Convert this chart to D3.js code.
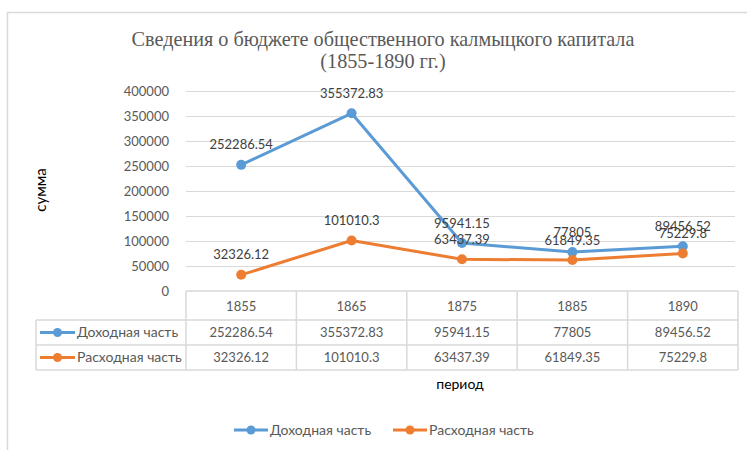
<!DOCTYPE html>
<html><head><meta charset="utf-8">
<script src="https://cdn.jsdelivr.net/npm/d3@7"></script>
<style>body{margin:0;background:#fff}svg{display:block}</style>
</head><body>
<script>
const categories = ["1855","1865","1875","1885","1890"];
const incomeValues = [252286.54, 355372.83, 95941.15, 77805, 89456.52];
const expenseValues = [32326.12, 101010.3, 63437.39, 61849.35, 75229.8];
const yTicks = [0,50000,100000,150000,200000,250000,300000,350000,400000];
const seriesNames = ["Доходная часть","Расходная часть"];
const colors = ["#5B9BD5","#ED7D31"];
const titleLines = ["Сведения о бюджете общественного калмыцкого капитала","(1855-1890 гг.)"];

const W=747,H=450;
const svg=d3.select("body").append("svg").attr("width",W).attr("height",H);
const font="Lato, 'Open Sans', sans-serif";
const gray="#595959", grid="#d9d9d9";

svg.append("rect").attr("x",7.5).attr("y",12.5).attr("width",900).attr("height",600)
  .attr("fill","#fff").attr("stroke",grid).attr("stroke-width",1.5);

// title
svg.append("g").selectAll("text").data(titleLines).join("text")
  .attr("x",383).attr("y",(d,i)=>46+i*22).attr("text-anchor","middle")
  .attr("font-family","'Liberation Serif','Times New Roman',serif").attr("font-size",20.2)
  .attr("fill",gray).text(d=>d);

const x=d3.scaleBand().domain(categories).range([186,738]);
const y=d3.scaleLinear().domain([0,400000]).range([291,91]);

// gridlines
svg.append("g").selectAll("line").data(yTicks.filter(d=>d>0)).join("line")
  .attr("x1",186).attr("x2",735).attr("y1",d=>Math.round(y(d))+0.5).attr("y2",d=>Math.round(y(d))+0.5)
  .attr("stroke",grid).attr("stroke-width",1);

// y axis labels
const yAxis=d3.axisLeft(y).tickValues(yTicks).tickSize(0).tickPadding(0).tickFormat(d3.format("d"));
const ga=svg.append("g").attr("transform","translate(169,0)").call(yAxis);
ga.select(".domain").remove();
ga.selectAll("text").attr("font-family",font).attr("font-size",13).attr("fill",gray).attr("dy","0.35em");

// axis titles
svg.append("text").attr("transform","translate(46,190) rotate(-90)").attr("text-anchor","middle")
  .attr("font-family",font).attr("font-size",15).attr("fill","#000").text("сумма");
svg.append("text").attr("x",460).attr("y",389).attr("text-anchor","middle")
  .attr("font-family",font).attr("font-size",14).attr("fill","#000").text("период");

// data table
const tbl=svg.append("g").attr("stroke",grid).attr("stroke-width",1.5);
const rowY=[291,320,345,370];
tbl.append("line").attr("x1",186).attr("x2",738).attr("y1",291).attr("y2",291);
[320,345,370].forEach(yy=>tbl.append("line").attr("x1",36).attr("x2",738).attr("y1",yy).attr("y2",yy));
tbl.append("line").attr("x1",36).attr("x2",36).attr("y1",320).attr("y2",370);
const edges=categories.map(c=>x(c)).concat([738]);
edges.forEach(ex=>tbl.append("line").attr("x1",ex).attr("x2",ex).attr("y1",291).attr("y2",370));

svg.append("g").selectAll("text").data(categories).join("text")
  .attr("x",d=>x(d)+x.bandwidth()/2).attr("y",306).attr("dy","0.35em").attr("text-anchor","middle")
  .attr("font-family",font).attr("font-size",13).attr("fill",gray).text(d=>d);

const series=[incomeValues,expenseValues];
const fmt=v=>String(v);
series.forEach((vals,si)=>{
  const ry=(rowY[si+1]+rowY[si+2])/2;
  svg.append("g").selectAll("text").data(vals).join("text")
    .attr("x",(d,i)=>x(categories[i])+x.bandwidth()/2).attr("y",ry).attr("dy","0.35em")
    .attr("text-anchor","middle").attr("font-family",font).attr("font-size",13).attr("fill",gray).text(fmt);
  // row label with legend key
  svg.append("line").attr("x1",40).attr("x2",75).attr("y1",ry).attr("y2",ry)
    .attr("stroke",colors[si]).attr("stroke-width",3);
  svg.append("circle").attr("cx",57.5).attr("cy",ry).attr("r",4.5).attr("fill",colors[si]);
  svg.append("text").attr("x",77).attr("y",ry).attr("dy","0.35em")
    .attr("font-family",font).attr("font-size",14).attr("fill",gray).text(seriesNames[si]);
});

// lines
const line=d3.line().x((d,i)=>x(categories[i])+x.bandwidth()/2).y(d=>y(d));
series.forEach((vals,si)=>{
  svg.append("path").datum(vals).attr("d",line).attr("fill","none")
    .attr("stroke",colors[si]).attr("stroke-width",3).attr("stroke-linejoin","round");
  svg.append("g").selectAll("circle").data(vals).join("circle")
    .attr("cx",(d,i)=>x(categories[i])+x.bandwidth()/2).attr("cy",d=>y(d)).attr("r",5)
    .attr("fill",colors[si]);
});
// data labels
series.forEach((vals,si)=>{
  svg.append("g").selectAll("text").data(vals).join("text")
    .attr("x",(d,i)=>x(categories[i])+x.bandwidth()/2).attr("y",d=>y(d)-20).attr("dy","0.35em")
    .attr("text-anchor","middle").attr("font-family",font).attr("font-size",13).attr("fill","#404040").text(fmt);
});

// legend
const leg=[{x:234,tx:270},{x:393,tx:429}];
leg.forEach((l,i)=>{
  svg.append("line").attr("x1",l.x).attr("x2",l.x+34).attr("y1",430).attr("y2",430)
    .attr("stroke",colors[i]).attr("stroke-width",3);
  svg.append("circle").attr("cx",l.x+17).attr("cy",430).attr("r",4.5).attr("fill",colors[i]);
  svg.append("text").attr("x",l.tx).attr("y",430).attr("dy","0.35em")
    .attr("font-family",font).attr("font-size",14).attr("fill",gray).text(seriesNames[i]);
});
</script>
</body></html>
